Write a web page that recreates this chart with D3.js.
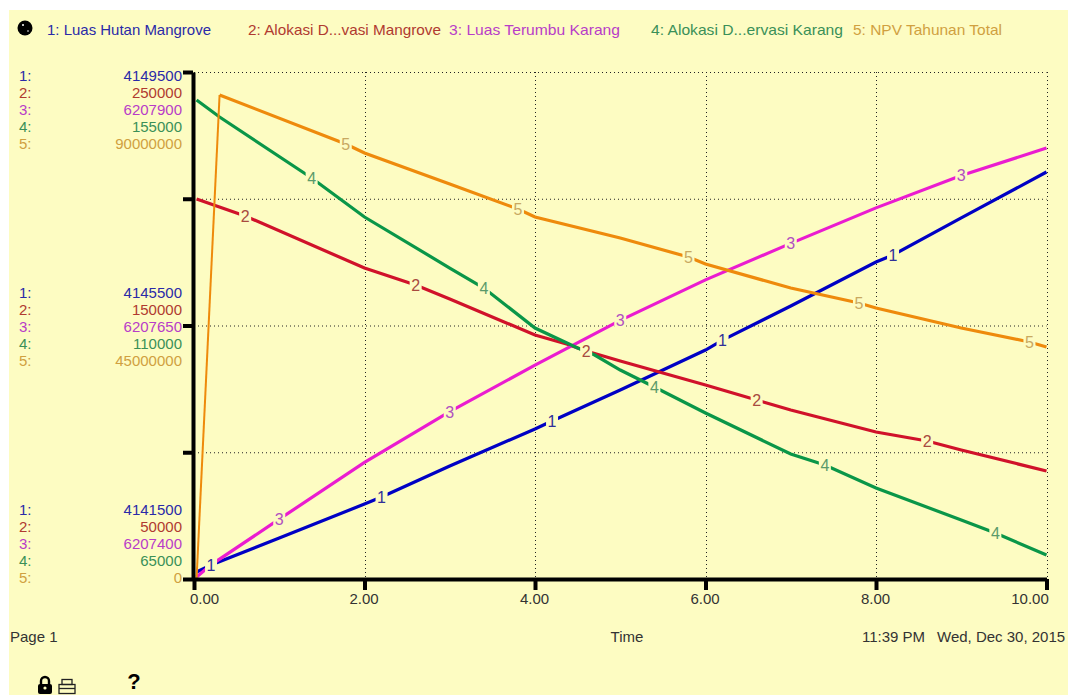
<!DOCTYPE html>
<html><head><meta charset="utf-8"><style>html,body{margin:0;padding:0;background:#fff}svg{display:block}text{font-family:"Liberation Sans",Arial,sans-serif}</style>
<script src="https://cdn.jsdelivr.net/npm/d3@7"></script></head><body><script>
const seriesNames = ["1: Luas Hutan Mangrove","2: Alokasi D...vasi Mangrove","3: Luas Terumbu Karang","4: Alokasi D...ervasi Karang","5: NPV Tahunan Total"];
const colors = ["#0000c4","#d0122a","#ea1cd0","#0a9648","#ee8a0c"];
const textColors = ["#2a2aa8","#b03a30","#b83cc8","#3a9058","#d0a040"];
const labelColors = ["#303098","#a84a40","#b050c0","#5a9a6a","#c8a860"];
const xTicks = [0,2,4,6,8,10];
const yLow =  [4141500,50000,6207400,65000,0];
const yMid =  [4145500,150000,6207650,110000,45000000];
const yHigh = [4149500,250000,6207900,155000,90000000];
const t1 = [0.03,0.2,1,2,2.2,3,4,4.2,5,6,6.2,7,8,8.2,9,10];
const v1 = [4141610,4141721,4142147,4142683,4142794,4143283,4143867,4143993,4144482,4145113,4145270,4145808,4146502,4146613,4147197,4147922];
const l1 = [0.2,2.2,4.2,6.2,8.2];
const t2 = [0.03,0.6,2,2.6,3,4,4.37,4.6,5,6,6.6,7,8,8.6,9,10];
const v2 = [199910,193204,172690,165983,160460,146258,142708,139946,136001,126533,120616,116670,107992,104441,100891,92606];
const l2 = [0.6,2.6,4.6,6.6,8.6];
const t3 = [0.03,0.2,1,2,3,4,5,6,7,8,9,10];
const v3 = [6207402,6207414,6207459,6207515,6207565,6207611,6207655,6207695,6207731,6207766,6207798,6207825];
const l3 = [1,3,5,7,9];
const t4 = [0.03,0.3,1.38,2,3,3.4,4,4.5,4.7,5,5.4,6,7,7.4,8,9,9.4,10];
const v4 = [150023,147005,136178,129255,120203,116653,109553,106003,104760,102098,99080,94465,87188,85235,81153,75473,73165,69260];
const l4 = [1.38,3.4,5.4,7.4,9.4];
const t5 = [0.03,0.3,1.78,2,3,3.8,4,5,5.8,6,7,7.8,8,9,9.8,10];
const v5 = [0,85917000,77219000,75621000,70118000,65681000,64260000,60533000,57160000,55917000,51657000,48994000,48107000,44556000,42071000,41183000];
const l5 = [1.78,3.8,5.8,7.8,9.8];
const allT=[t1,t2,t3,t4,t5], allV=[v1,v2,v3,v4,v5], allL=[l1,l2,l3,l4,l5];
const bg="#fdfcc2";
const W=1070,H=695,x0=194,x1=1046.5,yT=72,yB=579;
const svg=d3.select("body").append("svg").attr("width",W).attr("height",H);
svg.append("rect").attr("x",9).attr("y",10).attr("width",1059).attr("height",685).attr("fill",bg);
const x=d3.scaleLinear().domain([0,10]).range([x0,x1]);
const yFrac=d3.scaleLinear().domain([0,4]).range([yB,yT]);
const ys=yLow.map((lo,i)=>d3.scaleLinear().domain([lo,yHigh[i]]).range([yB,yT]));
const grid=svg.append("g").attr("stroke","#222").attr("stroke-width",1).attr("stroke-dasharray","1,3").attr("fill","none");
[0,1,2,3,4].forEach(k=>grid.append("line").attr("x1",x0).attr("x2",x1).attr("y1",yFrac(k)+.5).attr("y2",yFrac(k)+.5));
xTicks.slice(1).forEach(t=>grid.append("line").attr("x1",Math.round(x(t))+.5).attr("x2",Math.round(x(t))+.5).attr("y1",yT).attr("y2",yB));
const line=d3.line().x(d=>x(d[0]));
allT.forEach((ts,i)=>{
  const pts=ts.map((t,j)=>[t,allV[i][j]]);
  const gen=line.y(d=>ys[i](d[1]));
  if(i===4){
    svg.append("path").attr("d",gen(pts.slice(0,2))).attr("fill","none").attr("stroke",colors[i]).attr("stroke-width",2);
    svg.append("path").attr("d",gen(pts.slice(1))).attr("fill","none").attr("stroke",colors[i]).attr("stroke-width",3.2);
  } else {
    svg.append("path").attr("d",gen(pts)).attr("fill","none").attr("stroke",colors[i]).attr("stroke-width",3.2);
  }
});
allT.forEach((ts,i)=>{
  allL[i].forEach(t=>{
    const j=ts.indexOf(t);
    const px=x(t),py=ys[i](allV[i][j]);
    svg.append("rect").attr("x",px-6).attr("y",py-7).attr("width",12).attr("height",14).attr("fill",bg);
    svg.append("text").attr("x",px).attr("y",py+6).attr("text-anchor","middle").attr("font-size",16).attr("fill",labelColors[i]).text(i+1);
  });
});
const axL=d3.axisLeft(yFrac).tickValues([0,1,2,3,4]).tickFormat("").tickSize(10).tickSizeOuter(0);
const gl=svg.append("g").attr("transform",`translate(${x0-1},0)`).call(axL);
gl.selectAll("path,line").attr("stroke","#000").attr("stroke-width",4);
const axB=d3.axisBottom(x).tickValues(xTicks).tickFormat(d=>d3.format(".2f")(d)).tickSize(11).tickSizeOuter(0);
const gb=svg.append("g").attr("transform",`translate(0,${yB})`).call(axB);
gb.selectAll("path,line").attr("stroke","#000").attr("stroke-width",4);
gb.selectAll("text").attr("font-family",'"Liberation Sans",Arial,sans-serif').attr("font-size",15).attr("fill","#333").attr("y",14)
  .attr("dx",d=>d===0?10:d===10?-17:-1);
const legendX=[47,248,449,651,853];
const legendW=[164,193,171,192,149];
seriesNames.forEach((s,i)=>svg.append("text").attr("x",legendX[i]).attr("y",35).attr("font-size",15).attr("textLength",legendW[i]).attr("lengthAdjust","spacingAndGlyphs").attr("fill",textColors[i]).text(s));
[[yHigh,81],[yMid,298],[yLow,515]].forEach(([vals,y0])=>{
  vals.forEach((v,i)=>{
    const y=y0+i*16.9;
    svg.append("text").attr("x",19).attr("y",y).attr("font-size",15).attr("fill",textColors[i]).text((i+1)+":");
    svg.append("text").attr("x",182).attr("y",y).attr("font-size",15).attr("text-anchor","end").attr("fill",textColors[i]).text(v);
  });
});
const foot=(tx,px,py,a)=>svg.append("text").attr("x",px).attr("y",py).attr("font-size",15).attr("fill","#333").attr("text-anchor",a||"start").text(tx);
foot("Page 1",10,642);
foot("Time",627,642,"middle");
foot("11:39 PM",862,642);
foot("Wed, Dec 30, 2015",937,642);
svg.append("circle").attr("cx",25).attr("cy",28).attr("r",7.5).attr("fill","#000");
svg.append("circle").attr("cx",23).attr("cy",25).attr("r",1).attr("fill","#fff");
svg.append("circle").attr("cx",28).attr("cy",31).attr("r",.8).attr("fill","#fff");
svg.append("rect").attr("x",38).attr("y",684).attr("width",14).attr("height",10).attr("rx",2).attr("fill","#000");
svg.append("path").attr("d","M41,684v-3a4,4 0 0 1 8,0v3").attr("fill","none").attr("stroke","#000").attr("stroke-width",2.4);
svg.append("circle").attr("cx",45).attr("cy",688).attr("r",1.6).attr("fill",bg);
const pr=svg.append("g").attr("fill","none").attr("stroke","#222").attr("stroke-width",1.3);
pr.append("rect").attr("x",59).attr("y",684.5).attr("width",16).attr("height",9);
pr.append("rect").attr("x",62).attr("y",679.5).attr("width",10).attr("height",5);
pr.append("line").attr("x1",59).attr("x2",75).attr("y1",688.5).attr("y2",688.5);
svg.append("text").attr("x",134).attr("y",689).attr("text-anchor","middle").attr("font-size",22).attr("font-weight","bold").attr("fill","#000").text("?");
</script></body></html>
